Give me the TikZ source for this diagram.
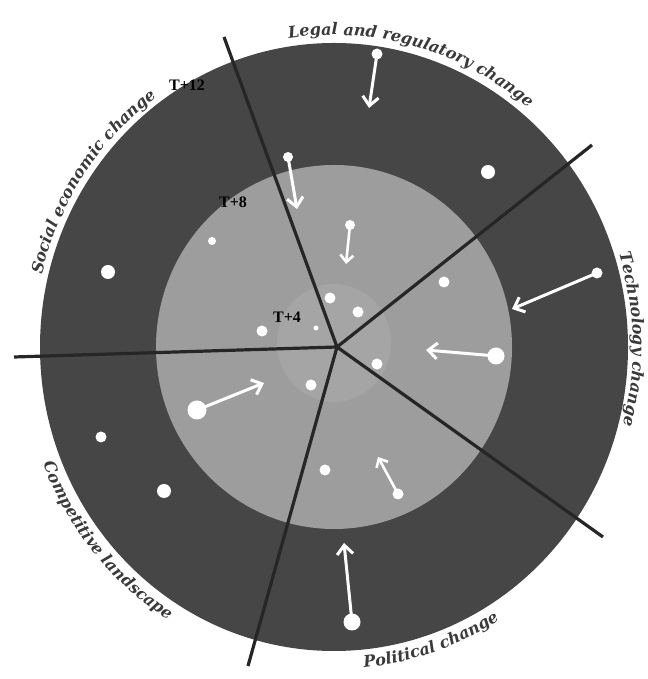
\documentclass[tikz,border=0pt]{standalone}
\usepackage{fontspec}
\setmainfont{Liberation Serif}
\newfontfamily\arcfont{DejaVu Serif}
\usetikzlibrary{arrows.meta,decorations.text}
\definecolor{ringdark}{HTML}{464646}
\definecolor{ringmid}{HTML}{9D9D9D}
\definecolor{ringin}{HTML}{A5A5A5}
\definecolor{divline}{HTML}{262626}
\definecolor{labelgray}{HTML}{3A3A3A}
\newcommand{\arcstyle}{\arcfont\bfseries\itshape\fontsize{16}{18}\selectfont\color{labelgray}}
\begin{document}
\begin{tikzpicture}[x=1pt,y=1pt,
  dot/.style={circle,fill=white,draw=none,inner sep=0pt,minimum size=#1},
  divider/.style={draw=divline,line width=3.2pt},
  flow/.style={draw=white,line width=3pt,line cap=round,-{Straight Barb[length=9pt,width=16pt]}},
  smallflow/.style={draw=white,line width=2.6pt,line cap=round,-{Straight Barb[length=7pt,width=13pt]}},
  tlabel/.style={font=\bfseries\fontsize{16}{18}\selectfont,text=black,inner sep=1pt},
  arclabel/.style={decorate,decoration={text along path,text align=center,text={|\arcstyle|#1}}}]
\useasboundingbox (0,0) rectangle (647,679);
\fill[white] (0,0) rectangle (647,679);
% rings
\coordinate (C) at (334,332);
\fill[ringdark] (C) ellipse [x radius=294, y radius=304];
\fill[ringmid] (C) ellipse [x radius=178, y radius=182];
\fill[ringin] (334,336) ellipse [x radius=57, y radius=59];
% dividers
\coordinate (O) at (337,332);
\coordinate (e1) at (224,642);
\coordinate (e2) at (592,534);
\coordinate (e3) at (14,322);
\coordinate (e4) at (603,142);
\coordinate (e5) at (248,13);
\draw[divider] (O) -- (e1);
\draw[divider] (O) -- (e2);
\draw[divider] (O) -- (e3);
\draw[divider] (O) -- (e4);
\draw[divider] (O) -- (e5);
% dots
\node[dot=14pt] (d1) at (488,507) {};
\node[dot=14pt] (d2) at (108,407) {};
\node[dot=11pt] (d3) at (101,242) {};
\node[dot=14pt] (d4) at (164,188) {};
\node[dot=8pt] (d5) at (212,438) {};
\node[dot=11pt] (d6) at (444,397) {};
\node[dot=11pt] (d7) at (325,209) {};
\node[dot=11pt] (d8) at (330,381) {};
\node[dot=11pt] (d9) at (358,367) {};
\node[dot=11pt] (d10) at (262,348) {};
\node[dot=11pt] (d11) at (377,315) {};
\node[dot=11pt] (d12) at (311,294) {};
\node[dot=5pt] (d13) at (316,351) {};
% arrows
\node[dot=11pt] (a1) at (377,625) {};
\coordinate (a1t) at (369,571);
\draw[flow] (a1.center) -- (a1t);
\node[dot=10pt] (a2) at (288,522) {};
\coordinate (a2t) at (297,470);
\draw[flow] (a2.center) -- (a2t);
\node[dot=10pt] (a3) at (350,454) {};
\coordinate (a3t) at (346,415);
\draw[smallflow] (a3.center) -- (a3t);
\node[dot=11pt] (a4) at (597,406) {};
\coordinate (a4t) at (512,370);
\draw[flow] (a4.center) -- (a4t);
\node[dot=17pt] (a5) at (496,323) {};
\coordinate (a5t) at (426,329);
\draw[flow] (a5.center) -- (a5t);
\node[dot=19pt] (a6) at (197,269) {};
\coordinate (a6t) at (264,296);
\draw[flow] (a6.center) -- (a6t);
\node[dot=11pt] (a7) at (398,185) {};
\coordinate (a7t) at (378,222);
\draw[smallflow] (a7.center) -- (a7t);
\node[dot=17pt] (a8) at (352,57) {};
\coordinate (a8t) at (344,136);
\draw[flow] (a8.center) -- (a8t);
% time labels
\node[tlabel] (t12) at (187,594) {T+12};
\node[tlabel] (t8) at (233,477) {T+8};
\node[tlabel] (t4) at (287,362) {T+4};
% curved labels
\begin{scope}[shift={(334,332)}]
\path[arclabel={Legal and regulatory change}] (125:302 and 312) arc[start angle=125, end angle=24, x radius=302, y radius=312];
\path[arclabel={Technology change}] (50:299 and 309) arc[start angle=50, end angle=-47, x radius=299, y radius=309];
\path[arclabel={Social economic change}] (195:300 and 310) arc[start angle=195, end angle=97, x radius=300, y radius=310];
\path[arclabel={Political change}] (-120:312 and 322) arc[start angle=-120, end angle=-23, x radius=312, y radius=322];
\path[arclabel={Competitive landscape}] (170:312 and 322) arc[start angle=170, end angle=270, x radius=312, y radius=322];
\end{scope}
\end{tikzpicture}
\end{document}
